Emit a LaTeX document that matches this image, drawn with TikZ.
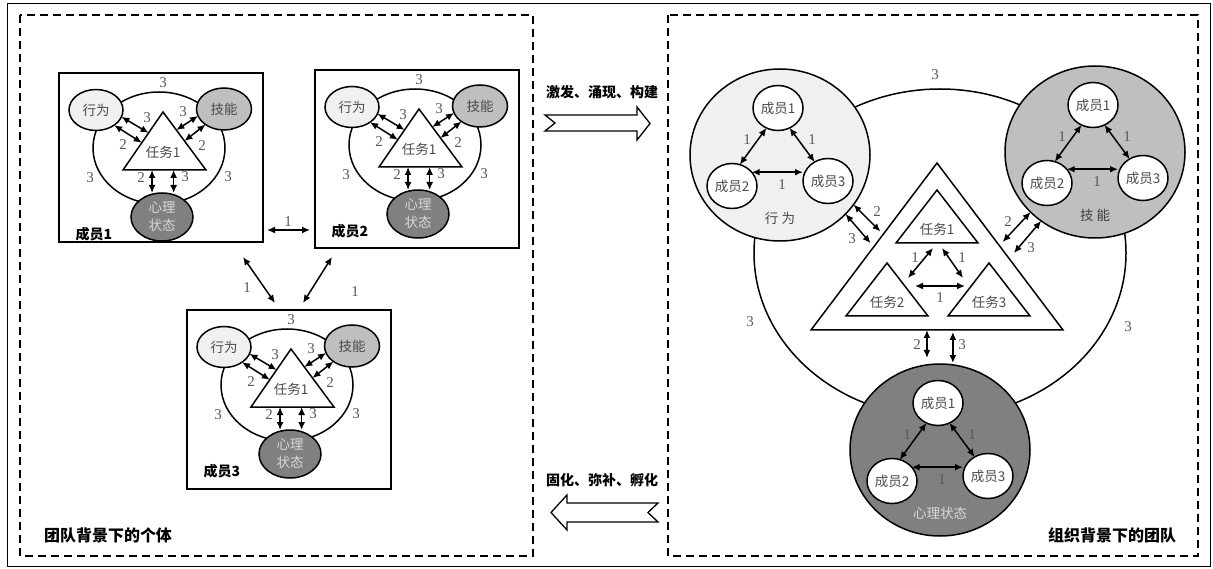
\documentclass[tikz,border=0pt]{standalone}
\usepackage{fontspec}
\setmainfont{Liberation Serif}
\newfontfamily\cjk{Noto Sans CJK SC}
\usetikzlibrary{arrows.meta,calc,shapes.geometric}

\begin{document}
\begin{tikzpicture}[x=1pt, y=-1pt,
    every node/.style={inner sep=0pt, outer sep=0pt},
    num/.style={font=\fontsize{15}{15}\selectfont, text=black!65},
    txt/.style={font=\cjk\fontsize{13.5}{18}\selectfont, text=black!70, align=center},
    hd/.style={font=\cjk\bfseries\fontsize{14}{16}\selectfont},
    elp/.style={draw, ellipse, line width=1.5pt, txt},
    grp/.style={draw, ellipse, line width=1.5pt},
    mem/.style={elp, fill=white, minimum width=50, minimum height=45},
    mbox/.style={draw, fill=white, line width=1.5pt, anchor=north west, minimum width=204},
    tri/.style={draw, fill=white, line width=1.5pt, line join=miter},
    dar/.style={{Latex[length=8pt,width=7pt]}-{Latex[length=8pt,width=7pt]}, line width=1.5pt},
    zone/.style={draw, line width=1.2pt, dash pattern=on 8pt off 5pt},
    blk/.style={draw, fill=white, line width=1.3pt, line join=miter},
]
\useasboundingbox (0,0) rectangle (1213,569);
\draw[line width=0.8pt] (7,3) rectangle (1210,566);
\draw[zone] (20,15) rectangle (533,556);
\draw[zone] (668,15) rectangle (1198,556);

\foreach \i/\ox/\oy/\h in {1/59/73/169, 2/315/70/178, 3/187/310/179}{
  \begin{scope}[shift={(\ox,\oy)}]
    \node[mbox, minimum height=\h] (b\i) at (0,0) {};
    \node[grp, minimum width=132, minimum height=112] (c\i) at (100,75) {};
    \node[elp, fill=black!6, minimum width=54, minimum height=41] (xw\i) at (37,37) {行为};
    \node[elp, fill=black!25, minimum width=55, minimum height=42] (jn\i) at (165,36) {技能};
    \node[elp, fill=black!50, text=black!15, minimum width=62, minimum height=48] (xl\i) at (103,144) {心理\\状态};
    \coordinate (ta\i) at (104,39);
    \coordinate (tl\i) at (64,97);
    \coordinate (tr\i) at (147,97);
    \draw[tri] (ta\i) -- (tl\i) -- (tr\i) -- cycle;
    \node[txt] (rw\i) at (104,79) {任务1};
    \draw[dar] (xw\i.-15) -- ($(ta\i)!.36!(tl\i)$);
    \draw[dar] (xw\i.-40) -- ($(ta\i)!.53!(tl\i)$);
    \draw[dar] (jn\i.-165) -- ($(ta\i)!.31!(tr\i)$);
    \draw[dar] (jn\i.-140) -- ($(ta\i)!.5!(tr\i)$);
    \draw[dar] ($(tl\i)!.35!(tr\i)$) -- ++(0,23);
    \draw[dar] ($(tl\i)!.61!(tr\i)$) -- ++(0,23);
    \node[num] at (104,10) {3};
    \node[num] at (31,105) {3};
    \node[num] at (169,104) {3};
    \node[num] at (88,45) {3};
    \node[num] at (64,72) {2};
    \node[num] at (124,39) {3};
    \node[num] at (143,73) {2};
    \node[num] at (82,105) {2};
    \node[num] at (126,104) {3};
    \node[hd] (n\i) at (35,161) {成员\i};
  \end{scope}
}
\draw[dar] ($(b1.south east)+(4,-12)$) -- ($(b2.south west)+(-5,-18)$);
\draw[dar] ($(b1.south east)+(-20,15)$) -- ($(b3.north)+(-14,-7)$);
\draw[dar] ($(b2.south west)+(17,9)$) -- ($(b3.north)+(14,-7)$);
\node[num] at (288,222) {1};
\node[num] at (247,288) {1};
\node[num] at (355,292) {1};

\node[grp, minimum width=372, minimum height=328] (team) at (940,253) {};
\node[num] at (935,75) {3};
\node[num] at (750,322) {3};
\node[num] at (1128,327) {3};

\foreach \g/\x/\y/\f/\t/\c in {gw/780/155/black!6/{行\ 为}/black!70, gj/1095/152/black!25/{技\ 能}/black!75, gx/940/450/black!50/心理状态/black!15}{
  \node[grp, fill=\f, minimum width=180, minimum height=172] (\g) at (\x,\y) {};
  \node[txt, text=\c] (\g-l) at (\x,\y+63) {\t};
  \node[mem] (\g1) at (\x-2,\y-47) {成员1};
  \node[mem] (\g2) at (\x-48,\y+31) {成员2};
  \node[mem] (\g3) at (\x+48,\y+26) {成员3};
  \draw[dar] (\g1.-120) -- (\g2.70);
  \draw[dar] (\g1.-60) -- (\g3.125);
  \draw[dar] (\g2.35) -- (\g2.35 -| \g3.west);
  \node[num] at (\x-33,\y-15) {1};
  \node[num] at (\x+32,\y-15) {1};
  \node[num] at (\x+2,\y+30) {1};
}

\coordinate (Ta) at (937,163);
\coordinate (Tl) at (811,330);
\coordinate (Tr) at (1063,330);
\draw[tri] (Ta) -- (Tl) -- (Tr) -- cycle;
\foreach \k/\x/\y in {1/937/190, 2/887/263, 3/989/263}{
  \coordinate (t\k) at (\x,\y);
  \draw[tri] (t\k) -- ++(-41,53) -- ++(82,0) -- cycle;
  \node[txt] (r\k) at (\x,\y+39) {任务\k};
}
\draw[dar] ($(t1)+(-4,58)$) -- ($(t2)+(21,15)$);
\draw[dar] ($(t1)+(5,58)$) -- ($(t3)+(-26,15)$);
\draw[dar] ($(t2)+(28,23)$) -- ($(t3)+(-24,23)$);
\node[num] at (915,258) {1};
\node[num] at (962,258) {1};
\node[num] at (940,298) {1};

\draw[dar] (gw.-34) -- ($(Ta)!.41!(Tl)+(-5,0)$);
\draw[dar] (gw.-42) -- ($(Ta)!.48!(Tl)+(-6,0)$);
\draw[dar] (gj.-137) -- ($(Ta)!.473!(Tr)+(6,0)$);
\draw[dar] (gj.-128) -- ($(Ta)!.539!(Tr)+(9,0)$);
\draw[dar] ($(Tl)!.46!(Tr)$) -- ++(0,28);
\draw[dar] ($(Tl)!.563!(Tr)+(0,2)$) -- ++(0,31);
\node[num] at (877,212) {2};
\node[num] at (852,239) {3};
\node[num] at (1008,222) {2};
\node[num] at (1031,248) {3};
\node[num] at (917,345) {2};
\node[num] at (962,345) {3};

\draw[blk] (545,115) -- (637,115) -- (637,107) -- (650,123.5) -- (637,140) -- (637,131) -- (545,131) -- (555,123) -- cycle;
\node[hd] (up) at (602,92) {激发、涌现、构建};
\draw[blk] (658,503) -- (567,503) -- (567,495) -- (551,512.5) -- (567,530) -- (567,522) -- (658,522) -- (648,512.5) -- cycle;
\node[hd] (dn) at (602,480) {固化、弥补、孵化};

\node[hd, font=\cjk\bfseries\fontsize{16}{18}\selectfont] (lt) at (108,535) {团队背景下的个体};
\node[hd, font=\cjk\bfseries\fontsize{16}{18}\selectfont] (rt) at (1112,535) {组织背景下的团队};
\end{tikzpicture}
\end{document}
